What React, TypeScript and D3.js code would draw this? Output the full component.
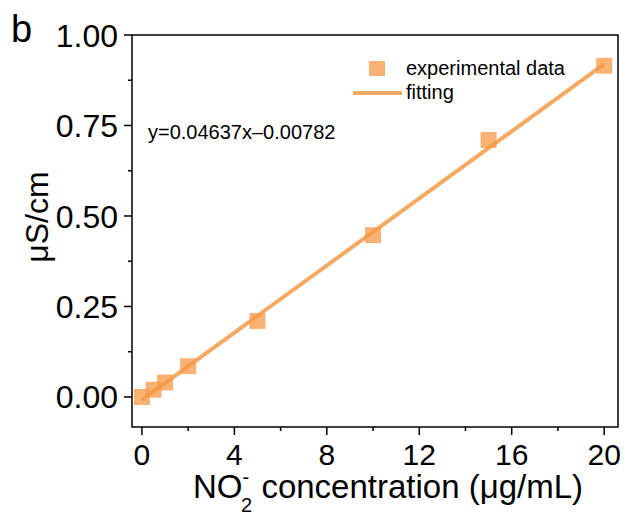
import * as d3 from "d3";

const concentrations = [0, 0.5, 1, 2, 5, 10, 15, 20];
const conductivity = [0.0, 0.02, 0.04, 0.085, 0.21, 0.447, 0.71, 0.915];
const fitSlope = 0.04637;
const fitIntercept = -0.00782;
const xTicks = [0, 4, 8, 12, 16, 20];
const xMinorTicks = [2, 6, 10, 14, 18];
const yTicks = [0, 0.25, 0.5, 0.75, 1.0];
const yMinorTicks = [0.125, 0.375, 0.625, 0.875];

const W = 629;
const H = 515;
const margin = { top: 35, right: 11, bottom: 88, left: 132 };
const font = "Liberation Sans, Arial, sans-serif";
const orange = "#f59a45";

export default function App() {
  const innerW = W - margin.left - margin.right;
  const innerH = H - margin.top - margin.bottom;

  const x = d3.scaleLinear().domain([-0.43, 20.6]).range([0, innerW]);
  const y = d3.scaleLinear().domain([-0.083, 1.0]).range([innerH, 0]);

  const fitLine = d3
    .line<number>()
    .x((d) => x(d))
    .y((d) => y(fitSlope * d + fitIntercept));

  const points = concentrations.map((c, i) => ({ c, v: conductivity[i] }));
  const sq = 16;

  return (
    <svg width={W} height={H} style={{ display: "block", position: "absolute", left: 0, top: 0 }} fontFamily={font}>
      <rect width={W} height={H} fill="#fff" />
      <text x={11} y={42} fontSize={38}>b</text>
      <g transform={`translate(${margin.left},${margin.top})`}>
        {/* fit line */}
        <path d={fitLine([0, 20]) ?? ""} stroke={orange} strokeOpacity={0.85} strokeWidth={4} fill="none" />
        {/* data squares */}
        {points.map((p, i) => (
          <rect
            key={i}
            x={x(p.c) - sq / 2}
            y={y(p.v) - sq / 2}
            width={sq}
            height={sq}
            fill={orange}
            fillOpacity={0.75}
          />
        ))}
        {/* frame */}
        <rect x={0} y={0} width={innerW} height={innerH} fill="none" stroke="#000" strokeWidth={1.5} />
        {/* y axis ticks */}
        {yTicks.map((t) => (
          <g key={t} transform={`translate(0,${y(t)})`}>
            <line x1={-8} x2={0} stroke="#000" strokeWidth={1.5} />
            <text x={-14} dy="0.36em" textAnchor="end" fontSize={32}>
              {t.toFixed(2)}
            </text>
          </g>
        ))}
        {yMinorTicks.map((t) => (
          <line key={t} x1={-4} x2={0} y1={y(t)} y2={y(t)} stroke="#000" strokeWidth={1.5} />
        ))}
        {/* x axis ticks */}
        {xTicks.map((t) => (
          <g key={t} transform={`translate(${x(t)},${innerH})`}>
            <line y1={0} y2={8} stroke="#000" strokeWidth={1.5} />
            <text y={38} textAnchor="middle" fontSize={30}>
              {t}
            </text>
          </g>
        ))}
        {xMinorTicks.map((t) => (
          <line key={t} x1={x(t)} x2={x(t)} y1={innerH} y2={innerH + 4} stroke="#000" strokeWidth={1.5} />
        ))}
        {/* equation */}
        <text x={16} y={104} fontSize={20}>y=0.04637x–0.00782</text>
        {/* legend */}
        <rect x={237} y={26} width={16} height={15} fill={orange} fillOpacity={0.75} />
        <text x={274} y={40} fontSize={20}>experimental data</text>
        <line x1={221} x2={270} y1={58} y2={58} stroke={orange} strokeOpacity={0.85} strokeWidth={4} />
        <text x={274} y={64} fontSize={20}>fitting</text>
      </g>
      {/* axis titles */}
      <text transform="translate(48,217) rotate(-90)" textAnchor="middle" fontSize={32}>
        μS/cm
      </text>
      <text x={388} y={498} textAnchor="middle" fontSize={33}>
        NO
        <tspan fontSize={20} dy={-14}>-</tspan>
        <tspan fontSize={20} dx={-8} dy={28}>2</tspan>
        <tspan fontSize={33} dy={-14}> concentration (μg/mL)</tspan>
      </text>
    </svg>
  );
}
